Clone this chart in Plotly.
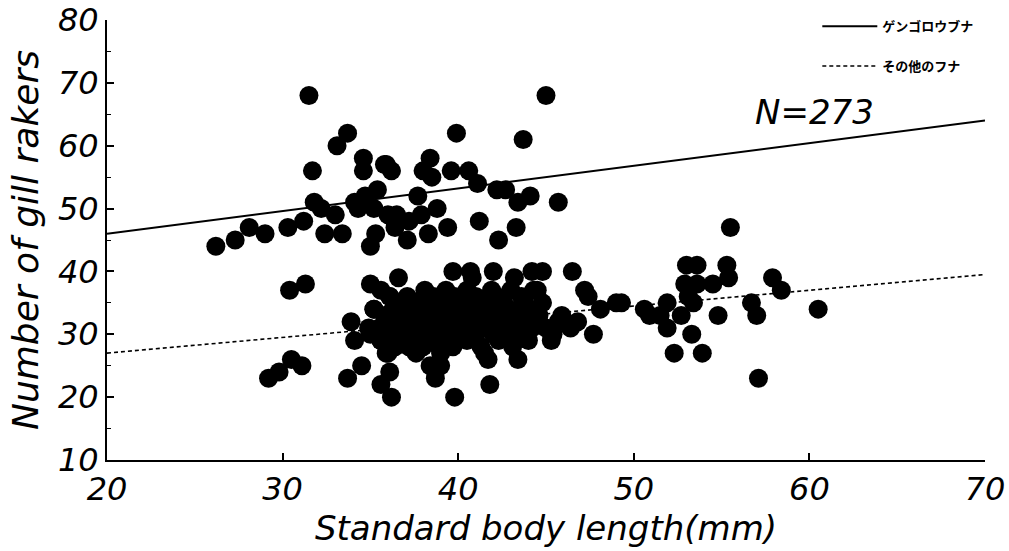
import plotly.graph_objects as go

# ---- data ----
# upper group (ゲンゴロウブナ)
upper_x = [26.2, 27.3, 28.1, 29.0, 30.3, 31.2, 31.5, 31.7, 31.8, 32.2, 33.0, 32.4, 33.4,
           33.1, 33.7, 34.6, 35.8, 36.2, 34.6, 35.4, 34.7, 34.1, 35.0, 35.3, 36.4, 36.0,
           35.2, 34.3, 45.0, 39.9, 43.7, 38.4, 38.0, 38.5, 39.6, 40.6, 41.1, 42.2, 42.7,
           37.7, 43.4, 44.1, 45.7, 38.8, 37.9, 36.5, 39.4, 41.2, 43.3, 42.3, 38.3, 37.1,
           36.4, 37.2, 35.9]
upper_y = [44, 45, 47, 46, 47, 48, 68, 56, 51, 50, 49, 46, 46,
           60, 62, 58, 57, 56, 56, 53, 52, 51, 44, 46, 48, 49,
           50, 50, 68, 62, 61, 58, 56, 55, 56, 56, 54, 53, 53,
           52, 51, 52, 51, 50, 49, 49, 47, 48, 47, 45, 46, 45,
           47, 48, 57]

# lower group (その他のフナ) - scattered points
lower_x = [29.2, 29.8, 30.5, 31.1, 30.4, 31.3, 33.7, 34.5, 33.9, 34.1, 35.0, 35.2, 36.1,
           34.9, 35.6, 35.9, 36.1, 35.6, 36.2, 36.6, 39.7, 40.8, 42.0, 43.2, 44.2, 44.8,
           46.5, 38.7, 38.4, 39.0, 38.0, 41.5, 41.7, 41.8, 43.4, 39.8, 44.5, 47.2, 47.4,
           48.1, 49.0, 49.3, 50.6, 47.7, 45.9, 46.8, 45.4, 45.0, 46.4, 51.9, 51.5, 51.9,
           52.7, 53.3, 53.4, 52.3, 53.9, 54.8, 52.9, 53.6, 54.5, 55.4, 53.0, 53.6, 55.3,
           55.5, 57.1, 57.9, 58.4, 56.7, 57.0, 60.5, 45.3, 53.1, 40.7, 50.9]
lower_y = [23, 24, 26, 25, 37, 38, 23, 25, 32, 29, 38, 34, 36,
           31, 29, 27, 24, 22, 20, 39, 40, 39, 40, 39, 40, 40,
           40, 23, 25, 25, 28, 27, 26, 22, 26, 20, 37, 37, 36,
           34, 35, 35, 34, 30, 33, 32, 30, 31, 31, 35, 33, 31,
           33, 30, 35, 27, 27, 33, 38, 38, 38, 39, 41, 41, 41,
           47, 23, 39, 37, 35, 33, 34, 29, 36, 40, 33]

# lower group - dense cluster, one list of x per gill-raker count
cluster_counts = [37, 36, 35, 34, 33, 32, 31, 30, 29, 28, 27]
cluster_x = [
    [35.6, 38.1, 39.3, 40.5, 41.9, 43.0, 44.3],
    [36.1, 37.1, 38.6, 39.8, 41.0, 42.2, 43.6],
    [36.8, 37.6, 38.4, 39.1, 40.2, 41.4, 42.6, 43.8, 44.8],
    [35.2, 36.3, 37.2, 38.0, 38.9, 39.6, 40.7, 41.7, 42.9, 44.0],
    [35.8, 36.7, 37.5, 38.3, 39.2, 40.0, 40.9, 41.8, 42.6, 43.5, 44.6],
    [36.2, 37.0, 37.9, 38.7, 39.5, 40.3, 41.2, 42.1, 43.0, 43.9, 45.7],
    [35.5, 36.5, 37.3, 38.2, 39.0, 39.9, 40.8, 41.6, 42.4, 43.3, 44.2],
    [35.0, 36.0, 37.7, 38.5, 39.4, 40.2, 41.0, 42.0, 42.8, 43.7],
    [35.6, 36.8, 37.4, 38.1, 39.3, 40.5, 42.3, 44.0],
    [36.4, 37.2, 38.9, 39.7, 41.3, 43.1],
    [36.0, 37.6, 39.0],
]

# regression lines (end points at x = 20 and 70)
line_x = [20, 70]
gengoro_line_y = [46.0, 64.0]
other_line_y = [27.0, 39.5]

x_ticks = [20, 30, 40, 50, 60, 70]
y_ticks = [10, 20, 30, 40, 50, 60, 70, 80]

all_x = upper_x + lower_x + [v for row in cluster_x for v in row]
all_y = upper_y + lower_y + [c for c, row in zip(cluster_counts, cluster_x) for _ in row]

FONT = "DejaVu Sans"

fig = go.Figure()
fig.add_trace(go.Scatter(
    x=line_x, y=gengoro_line_y, mode="lines", name="<b>ゲンゴロウブナ</b>",
    line=dict(color="black", width=2), legendgroup="a"))
fig.add_trace(go.Scatter(
    x=line_x, y=other_line_y, mode="lines", name="<b>その他のフナ</b>",
    line=dict(color="black", width=1.6, dash="4px,3px"), legendgroup="b"))
fig.add_trace(go.Scatter(
    x=all_x, y=all_y, mode="markers", showlegend=False,
    marker=dict(color="black", size=19, line=dict(width=0))))

axis_common = dict(
    showgrid=False, zeroline=False, showline=True, linecolor="black", linewidth=2,
    ticks="inside", ticklen=7, tickwidth=1.5, tickcolor="black", automargin=False,
    ticklabeloverflow="allow",
    tickfont=dict(family=FONT, size=32, color="black", style="italic"),
)

fig.update_xaxes(
    range=[20, 70], tickvals=x_ticks, ticktext=[str(v) for v in x_ticks],
    title=dict(text="Standard body length(mm)", standoff=2,
               font=dict(family=FONT, size=34, color="black", style="italic")),
    **axis_common)
fig.update_yaxes(
    range=[10, 80], tickvals=y_ticks, ticktext=[str(v) for v in y_ticks],
    minor=dict(dtick=5, ticks="inside", ticklen=4, tickcolor="black", tickwidth=1),
    title=dict(text="Number of gill rakers", standoff=8,
               font=dict(family=FONT, size=36, color="black", style="italic")),
    **axis_common)

fig.add_annotation(x=60.3, y=65.4, xref="x", yref="y", text="N=273", showarrow=False,
                   font=dict(family=FONT, size=34, color="black", style="italic"))

fig.update_layout(
    width=1009, height=551,
    margin=dict(l=107, r=24, t=20, b=91, autoexpand=False),
    plot_bgcolor="white", paper_bgcolor="white",
    legend=dict(x=0.809, y=1.02, xanchor="left", yanchor="top",
                font=dict(family="Noto Sans CJK JP", size=13, color="black"),
                bgcolor="rgba(0,0,0,0)", tracegroupgap=20, itemwidth=55),
)

# remove the default 8px page margin so the figure fills the window exactly
fig.write_html("out.html",
               config={"displayModeBar": False},
               post_script="document.body.style.margin='0';document.body.style.overflow='hidden';")
